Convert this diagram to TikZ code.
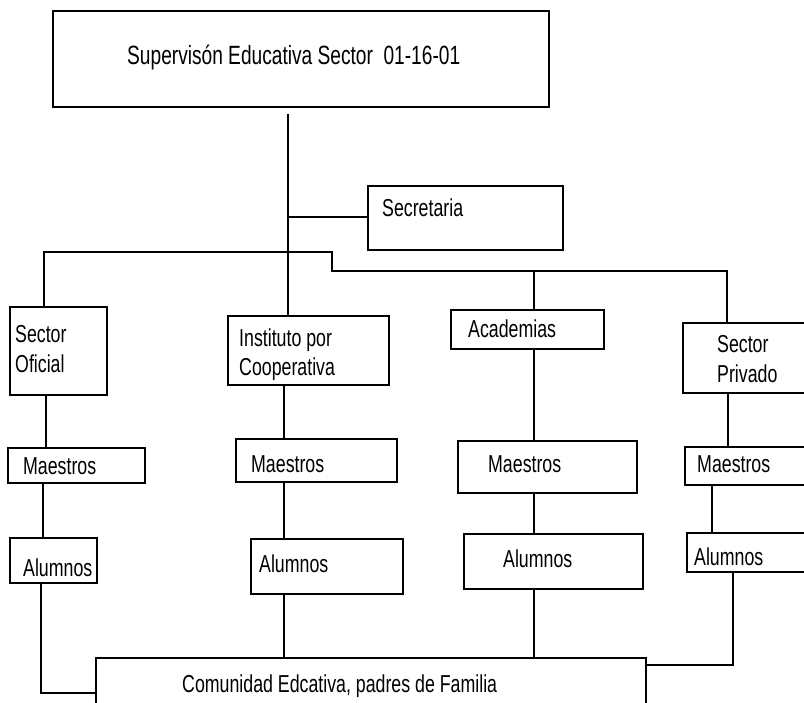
\documentclass[tikz,border=0pt]{standalone}
\usepackage{fontspec}
\setmainfont{Liberation Sans}[FakeStretch=0.725]
\newcommand\orgbox[5]{%
  \pgfmathsetmacro\obw{#4-#2}\pgfmathsetmacro\obh{#5-#3}%
  \pgfmathsetmacro\obx{(#2+#4)/2}\pgfmathsetmacro\oby{(#3+#5)/2}%
  \node[box, minimum width=\obw pt, minimum height=\obh pt] (#1) at (\obx,\oby) {};}
\begin{document}
\begin{tikzpicture}[x=1pt,y=-1pt,
  box/.style={draw, line width=1.2pt, rectangle, inner sep=0pt},
  lbl/.style={inner sep=0pt, anchor=base west, align=left, font=\fontsize{24.5}{30}\selectfont},
  conn/.style={line width=1.2pt}]
\path[use as bounding box, clip] (0,0) rectangle (804,703);
% boxes
\orgbox{top}{53}{11}{549}{107}
\orgbox{sec}{368}{186}{563}{250}
\orgbox{so}{10}{307}{107}{395}
\orgbox{ic}{228}{316}{389}{385}
\orgbox{ac}{451}{310}{604}{349}
\orgbox{sp}{683}{323}{808}{393}
\orgbox{m1}{8}{448}{145}{483}
\orgbox{m2}{236}{439}{397}{482}
\orgbox{m3}{458}{441}{637}{493}
\orgbox{m4}{685}{447}{808}{485}
\orgbox{a1}{10}{538}{97}{583}
\orgbox{a2}{251}{539}{403}{594}
\orgbox{a3}{464}{534}{643}{589}
\orgbox{a4}{687}{533}{808}{572}
\orgbox{com}{96}{658}{646}{712}
% labels (multi-line labels are anchored at the baseline of their last line)
\node[lbl, font=\fontsize{26.4}{30}\selectfont] (ttop) at (127,65) {Supervisón Educativa Sector~~01-16-01};
\node[lbl] (tsec) at (382,217) {Secretaria};
\node[lbl] (tso) at (15,373) {Sector\\Oficial};
\node[lbl, font=\fontsize{24.5}{29}\selectfont] (tic) at (239,376) {Instituto por\\Cooperativa};
\node[lbl] (tac) at (468,338) {Academias};
\node[lbl] (tsp) at (717,383) {Sector\\Privado};
\node[lbl] (tm1) at (23,475) {Maestros};
\node[lbl] (tm2) at (251,472) {Maestros};
\node[lbl] (tm3) at (488,473) {Maestros};
\node[lbl] (tm4) at (697,473) {Maestros};
\node[lbl] (ta1) at (23,576) {Alumnos};
\node[lbl] (ta2) at (259,572) {Alumnos};
\node[lbl] (ta3) at (503,567) {Alumnos};
\node[lbl] (ta4) at (694,565) {Alumnos};
\node[lbl] (tcom) at (182,692) {Comunidad Edcativa, padres de Familia};
% coordinates
\coordinate (topjoin) at (288,114);
\coordinate (secjoin) at (288,217);
\coordinate (busL) at (44,252);
\coordinate (busM) at (332,252);
\coordinate (busN) at (332,271);
\coordinate (busA) at (534,271);
\coordinate (busR) at (727,271);
\coordinate (cA) at (46,0);
\coordinate (cB) at (43,0);
\coordinate (lc) at (41,693);
\coordinate (cD) at (284,0);
\coordinate (cE) at (534,0);
\coordinate (cF) at (728,0);
\coordinate (cG) at (712,0);
\coordinate (rc) at (733,665);
% connectors
\draw[conn] (topjoin) -- (topjoin |- ic.north);
\draw[conn] (secjoin) -- (secjoin -| sec.west);
\draw[conn] (busL |- so.north) -- (busL) -- (busM) -- (busN) -- (busR) -- (busR |- sp.north);
\draw[conn] (busA) -- (busA |- ac.north);
\draw[conn] (so.south -| cA) -- (m1.north -| cA);
\draw[conn] (m1.south -| cB) -- (a1.north -| cB);
\draw[conn] (a1.south -| lc) -- (lc) -- (lc -| com.west);
\draw[conn] (ic.south -| cD) -- (m2.north -| cD);
\draw[conn] (m2.south -| cD) -- (a2.north -| cD);
\draw[conn] (a2.south -| cD) -- (com.north -| cD);
\draw[conn] (ac.south -| cE) -- (m3.north -| cE);
\draw[conn] (m3.south -| cE) -- (a3.north -| cE);
\draw[conn] (a3.south -| cE) -- (com.north -| cE);
\draw[conn] (sp.south -| cF) -- (m4.north -| cF);
\draw[conn] (m4.south -| cG) -- (a4.north -| cG);
\draw[conn] (a4.south -| rc) -- (rc) -- (rc -| com.east);
\end{tikzpicture}
\end{document}
